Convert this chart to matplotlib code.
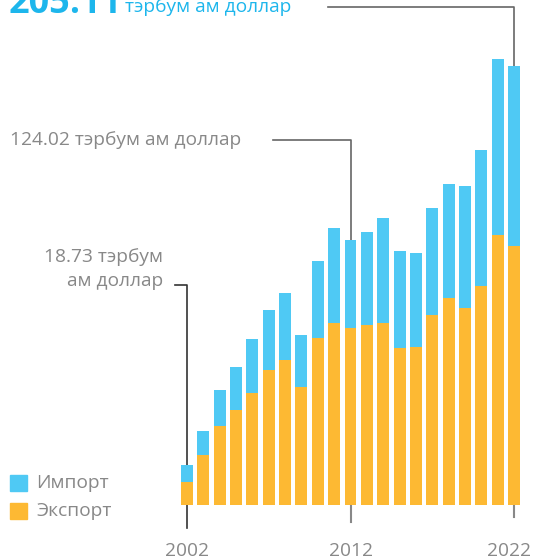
import matplotlib.pyplot as plt
import numpy as np
from matplotlib.patches import Rectangle

plt.rcParams['font.family'] = ['Open Sans', 'DejaVu Sans']

# Data (billion USD)
years = list(range(2002, 2023))
export = [10.7, 23.4, 36.9, 44.4, 52.3, 63.1, 67.8, 55.1, 78.0, 85.0, 82.7,
          84.1, 85.0, 73.4, 73.8, 88.8, 96.7, 92.1, 102.3, 126.2, 121.0]
total = [18.73, 34.6, 53.7, 64.5, 77.6, 91.1, 99.1, 79.4, 114.0, 129.4, 124.02,
         127.6, 134.1, 118.7, 117.8, 138.8, 150.0, 149.1, 165.9, 208.4, 205.11]
imports = [t - e for t, e in zip(total, export)]
tick_years = [2002, 2012, 2022]

BLUE = '#4FC9F4'
ORANGE = '#FDB933'
BIG_BLUE = '#1DB6EC'
GRAY = '#888888'
FS = 13.8

W, H = 534, 560
fig = plt.figure(figsize=(W / 100, H / 100), dpi=100)
ax = fig.add_axes([0, 0, 1, 1])

# pixel mapping: bar 0 centre at 187px, bar 20 at 514px; baseline 505px from top
xs = (514 - 187) / 20
ys = 2.14
ax.set_xlim(-187 / xs, 20 + (W - 514) / xs)
ax.set_ylim(-(H - 505) / ys, 505 / ys)
ax.axis('off')


def dy(py):
    # pixel row (from top) -> data y
    return (505 - py) / ys


def dx(px):
    return (px - 187) / xs


idx = np.arange(len(years))
ax.bar(idx, export, width=0.73, color=ORANGE, zorder=3)
ax.bar(idx, imports, bottom=export, width=0.73, color=BLUE, zorder=3)

# annotation leader lines
i02 = years.index(2002)
i12 = years.index(2012)
i22 = years.index(2022)
ax.plot([dx(175), i02, i02], [dy(285), dy(285), dy(528)], color='#333333', lw=1.2, zorder=1)
ax.plot([dx(273), i12, i12], [dy(140), dy(140), total[i12]], color='#666666', lw=1.2, zorder=1)
ax.plot([i12, i12], [0, dy(522)], color=GRAY, lw=1.5, zorder=1)
ax.plot([dx(328), i22, i22], [dy(7), dy(7), total[i22]], color='#666666', lw=1.2, zorder=1)
ax.plot([i22, i22], [0, dy(517)], color=GRAY, lw=1.5, zorder=1)

# year labels
label_x = {2002: years.index(2002), 2012: years.index(2012), 2022: dx(509)}
for y in tick_years:
    ax.text(label_x[y], dy(551), str(y), ha='center', va='center',
            fontsize=FS, color=GRAY)

# annotations
ax.text(dx(10), dy(140), '124.02 тэрбум ам доллар', ha='left', va='center',
        fontsize=FS, color=GRAY)
ax.text(dx(163), dy(257), '18.73 тэрбум', ha='right', va='center',
        fontsize=FS, color=GRAY)
ax.text(dx(163), dy(281), 'ам доллар', ha='right', va='center',
        fontsize=FS, color=GRAY)
ax.text(dx(9), dy(13), '205.11', ha='left', va='baseline', fontsize=26,
        fontweight='bold', color=BIG_BLUE)
ax.text(dx(125), dy(7), 'тэрбум ам доллар', ha='left', va='center',
        fontsize=FS, color=BIG_BLUE)

# legend
for py, col, lab in [(475, BLUE, 'Импорт'), (503, ORANGE, 'Экспорт')]:
    fig.add_artist(Rectangle((10 / W, 1 - (py + 16) / H), 17 / W, 16 / H,
                             transform=fig.transFigure, color=col))
    fig.text(36 / W, 1 - (py + 8) / H, lab, ha='left', va='center',
             fontsize=FS, color=GRAY)

plt.savefig('out.png', dpi=100)
